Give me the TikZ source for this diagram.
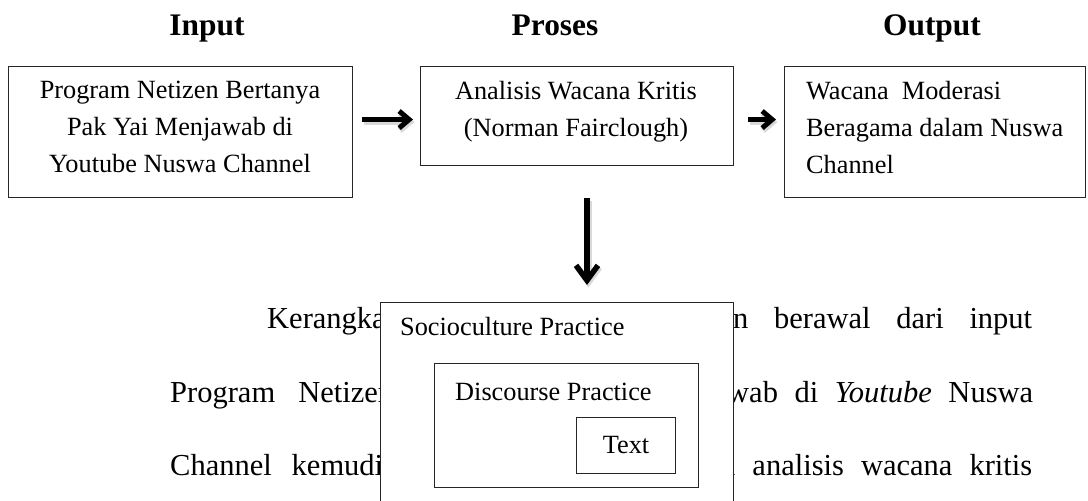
\documentclass[tikz,border=0pt]{standalone}
\usepackage{fontspec}
\setmainfont{Liberation Serif}
\usetikzlibrary{arrows.meta}

\tikzset{
  kotak/.style={draw=black!85, line width=1.1pt, fill=white, inner sep=0pt, anchor=north west},
  isi/.style={font=\fontsize{26.3}{37}\selectfont, inner sep=0pt},
  judul/.style={font=\fontsize{31.4}{36}\selectfont\bfseries, inner sep=0pt, anchor=base},
  paragraf/.style={font=\fontsize{30.5}{36}\selectfont, inner sep=0pt, anchor=base west},
  panah/.style={line width=5pt, -{Straight Barb[length=10pt,width=17pt]},
    preaction={draw=black!15, line width=6pt, transform canvas={shift={(1.5pt,-2.5pt)}}}},
  panahbesar/.style={panah, line width=5.5pt, -{Straight Barb[length=15pt,width=22pt]}}
}

\begin{document}
\begin{tikzpicture}[x=1pt,y=-1pt]

  \useasboundingbox (0,0) rectangle (1088,501);
  \clip (0,0) rectangle (1088,501);

  % judul kolom
  \node[judul] (jinput) at (207,35) {Input};
  \node[judul] (jproses) at (555,35) {Proses};
  \node[judul] (joutput) at (932,35) {Output};

  % kotak atas
  \node[kotak, minimum width=344pt, minimum height=131pt] (input) at (8,66) {};
  \node[kotak, minimum width=313pt, minimum height=99pt] (proses) at (420,66) {};
  \node[kotak, minimum width=301pt, minimum height=131pt] (output) at (784,66) {};

  \node[isi, align=center] (tinput) at (180,127)
     {Program Netizen Bertanya\\Pak Yai Menjawab di\\Youtube Nuswa Channel};
  \node[isi, align=center] (tproses) at (576,112)
     {Analisis Wacana Kritis\\(Norman Fairclough)};
  \node[isi, align=left, anchor=west] (toutput) at (806,128)
     {Wacana\ \ Moderasi\\Beragama dalam Nuswa\\Channel};

  \path ([yshift=-3.5pt]proses.west) coordinate (masuk);
  \path ([yshift=-3.5pt]proses.east) coordinate (keluar);
  \draw[panah, shorten <=9pt, shorten >=7pt] (input.east |- masuk) -- (masuk);
  \draw[panah, shorten <=14pt, shorten >=8pt] (keluar) -- (output.west |- keluar);

  % paragraf di belakang
  \node[paragraf] (baris1a) at (267,328) {Kerangka};
  \node[paragraf] (baris1b) at (733,328) {\makebox[299pt][s]{n berawal dari input}};
  \node[paragraf] (baris2a) at (170,402) {\makebox[223pt][s]{Program Netizen}};
  \node[paragraf] (baris2b) at (727,402) {\makebox[306pt][s]{wab di \textit{Youtube} Nuswa}};
  \node[paragraf] (baris3a) at (170,475) {\makebox[213pt][s]{Channel kemudi}};
  \node[paragraf] (baris3b) at (720,475) {\makebox[312pt][s]{n analisis wacana kritis}};

  % kotak bertingkat
  \node[kotak, minimum width=353pt, minimum height=240pt] (socio) at (380,302) {};
  \node[isi, anchor=base west] (tsocio) at (400,335) {Socioculture Practice};
  \node[kotak, minimum width=264pt, minimum height=124pt] (discourse) at (434,363) {};
  \node[isi, anchor=base west] (tdiscourse) at (455,400) {Discourse Practice};
  \node[kotak, minimum width=99pt, minimum height=56pt] (text) at (576,417) {};
  \node[isi, anchor=base] (ttext) at (text.center |- 0,453) {Text};

  \coordinate (pangkal) at (587,198);
  \coordinate (ujung) at (587,285);
  \draw[panahbesar] (pangkal) -- (ujung);

\end{tikzpicture}
\end{document}
